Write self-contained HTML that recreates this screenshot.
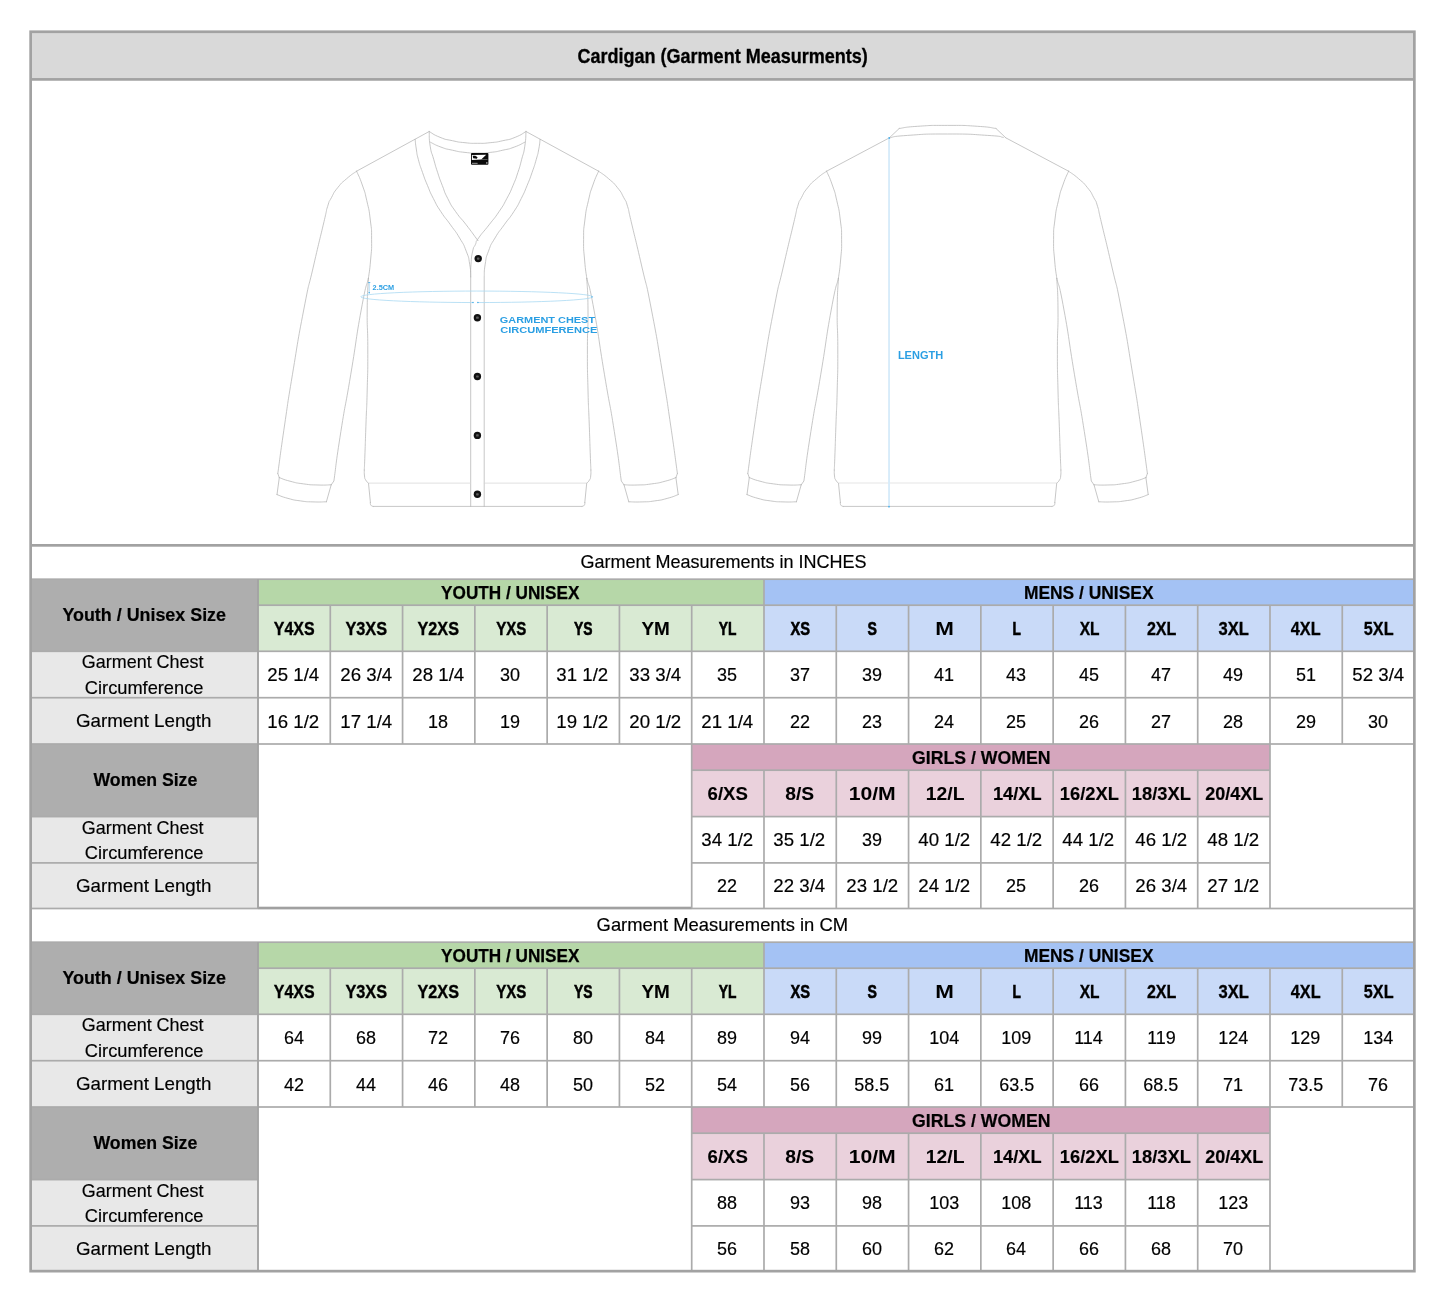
<!DOCTYPE html>
<html lang="en"><head><meta charset="utf-8"><title>Cardigan (Garment Measurments)</title>
<style>
html,body{margin:0;padding:0;background:#fff;}
body{width:1445px;height:1297px;position:relative;overflow:hidden;font-family:"Liberation Sans",sans-serif;color:#000;}
svg.bg{position:absolute;left:0;top:0;width:1445px;height:1297px;will-change:transform;}
#tx{position:absolute;left:0;top:0;width:1445px;height:1297px;will-change:transform;}
.t{position:absolute;width:0;height:0;display:flex;align-items:center;justify-content:center;white-space:nowrap;overflow:visible;}
.t span{display:inline-block;flex:none;transform-origin:50% 50%;}
.ttl{font-weight:bold;font-size:19.7px;}
.bd{font-weight:bold;font-size:18.2px;}
.rg{font-size:18.2px;-webkit-text-stroke:0.18px #000;}
</style></head><body>
<svg class="bg" width="1445" height="1297" viewBox="0 0 1445 1297">
<rect x="30.65" y="31.75" width="1383.70" height="47.65" fill="#d9d9d9"/>
<rect x="30.65" y="579.20" width="227.35" height="72.10" fill="#aeaeae"/>
<rect x="30.65" y="651.30" width="227.35" height="92.70" fill="#e8e8e8"/>
<rect x="30.65" y="744.00" width="227.35" height="72.60" fill="#aeaeae"/>
<rect x="30.65" y="816.60" width="227.35" height="91.90" fill="#e8e8e8"/>
<rect x="258.00" y="579.20" width="506.00" height="26.00" fill="#b6d7a8"/>
<rect x="764.00" y="579.20" width="650.35" height="26.00" fill="#a4c2f4"/>
<rect x="258.00" y="605.20" width="506.00" height="46.10" fill="#d9ead3"/>
<rect x="764.00" y="605.20" width="650.35" height="46.10" fill="#c9daf8"/>
<rect x="691.71" y="744.00" width="578.28" height="26.20" fill="#d5a6bd"/>
<rect x="691.71" y="770.20" width="578.28" height="46.40" fill="#ead1dc"/>
<rect x="30.65" y="578.35" width="1383.70" height="1.70" fill="#ababab"/>
<rect x="258.00" y="604.35" width="1156.35" height="1.70" fill="#ababab"/>
<rect x="30.65" y="650.45" width="1383.70" height="1.70" fill="#ababab"/>
<rect x="30.65" y="696.85" width="1383.70" height="1.70" fill="#ababab"/>
<rect x="30.65" y="743.15" width="1383.70" height="1.70" fill="#ababab"/>
<rect x="691.71" y="769.35" width="578.28" height="1.70" fill="#ababab"/>
<rect x="30.65" y="815.75" width="227.35" height="1.70" fill="#ababab"/>
<rect x="691.71" y="815.75" width="578.28" height="1.70" fill="#ababab"/>
<rect x="30.65" y="862.05" width="227.35" height="1.70" fill="#ababab"/>
<rect x="691.71" y="862.05" width="578.28" height="1.70" fill="#ababab"/>
<rect x="30.65" y="907.65" width="1383.70" height="1.70" fill="#ababab"/>
<rect x="258.00" y="906.70" width="433.71" height="2.40" fill="#a0a0a0"/>
<rect x="257.05" y="579.20" width="1.90" height="329.30" fill="#a4a4a4"/>
<rect x="329.43" y="605.20" width="1.70" height="138.80" fill="#ababab"/>
<rect x="401.72" y="605.20" width="1.70" height="138.80" fill="#ababab"/>
<rect x="474.00" y="605.20" width="1.70" height="138.80" fill="#ababab"/>
<rect x="546.29" y="605.20" width="1.70" height="138.80" fill="#ababab"/>
<rect x="618.57" y="605.20" width="1.70" height="138.80" fill="#ababab"/>
<rect x="690.86" y="605.20" width="1.70" height="138.80" fill="#ababab"/>
<rect x="763.14" y="579.20" width="1.70" height="164.80" fill="#ababab"/>
<rect x="835.43" y="605.20" width="1.70" height="138.80" fill="#ababab"/>
<rect x="907.71" y="605.20" width="1.70" height="138.80" fill="#ababab"/>
<rect x="980.00" y="605.20" width="1.70" height="138.80" fill="#ababab"/>
<rect x="1052.29" y="605.20" width="1.70" height="138.80" fill="#ababab"/>
<rect x="1124.57" y="605.20" width="1.70" height="138.80" fill="#ababab"/>
<rect x="1196.86" y="605.20" width="1.70" height="138.80" fill="#ababab"/>
<rect x="1269.14" y="605.20" width="1.70" height="138.80" fill="#ababab"/>
<rect x="1341.42" y="605.20" width="1.70" height="138.80" fill="#ababab"/>
<rect x="690.86" y="744.00" width="1.70" height="164.50" fill="#ababab"/>
<rect x="763.14" y="770.20" width="1.70" height="138.30" fill="#ababab"/>
<rect x="835.43" y="770.20" width="1.70" height="138.30" fill="#ababab"/>
<rect x="907.71" y="770.20" width="1.70" height="138.30" fill="#ababab"/>
<rect x="980.00" y="770.20" width="1.70" height="138.30" fill="#ababab"/>
<rect x="1052.29" y="770.20" width="1.70" height="138.30" fill="#ababab"/>
<rect x="1124.57" y="770.20" width="1.70" height="138.30" fill="#ababab"/>
<rect x="1196.86" y="770.20" width="1.70" height="138.30" fill="#ababab"/>
<rect x="1269.14" y="744.00" width="1.70" height="164.50" fill="#ababab"/>
<rect x="30.65" y="942.20" width="227.35" height="72.10" fill="#aeaeae"/>
<rect x="30.65" y="1014.30" width="227.35" height="92.70" fill="#e8e8e8"/>
<rect x="30.65" y="1107.00" width="227.35" height="72.60" fill="#aeaeae"/>
<rect x="30.65" y="1179.60" width="227.35" height="91.55" fill="#e8e8e8"/>
<rect x="258.00" y="942.20" width="506.00" height="26.00" fill="#b6d7a8"/>
<rect x="764.00" y="942.20" width="650.35" height="26.00" fill="#a4c2f4"/>
<rect x="258.00" y="968.20" width="506.00" height="46.10" fill="#d9ead3"/>
<rect x="764.00" y="968.20" width="650.35" height="46.10" fill="#c9daf8"/>
<rect x="691.71" y="1107.00" width="578.28" height="26.20" fill="#d5a6bd"/>
<rect x="691.71" y="1133.20" width="578.28" height="46.40" fill="#ead1dc"/>
<rect x="30.65" y="941.35" width="1383.70" height="1.70" fill="#ababab"/>
<rect x="258.00" y="967.35" width="1156.35" height="1.70" fill="#ababab"/>
<rect x="30.65" y="1013.45" width="1383.70" height="1.70" fill="#ababab"/>
<rect x="30.65" y="1059.85" width="1383.70" height="1.70" fill="#ababab"/>
<rect x="30.65" y="1106.15" width="1383.70" height="1.70" fill="#ababab"/>
<rect x="691.71" y="1132.35" width="578.28" height="1.70" fill="#ababab"/>
<rect x="30.65" y="1178.75" width="227.35" height="1.70" fill="#ababab"/>
<rect x="691.71" y="1178.75" width="578.28" height="1.70" fill="#ababab"/>
<rect x="30.65" y="1225.05" width="227.35" height="1.70" fill="#ababab"/>
<rect x="691.71" y="1225.05" width="578.28" height="1.70" fill="#ababab"/>
<rect x="257.05" y="942.20" width="1.90" height="328.95" fill="#a4a4a4"/>
<rect x="329.43" y="968.20" width="1.70" height="138.80" fill="#ababab"/>
<rect x="401.72" y="968.20" width="1.70" height="138.80" fill="#ababab"/>
<rect x="474.00" y="968.20" width="1.70" height="138.80" fill="#ababab"/>
<rect x="546.29" y="968.20" width="1.70" height="138.80" fill="#ababab"/>
<rect x="618.57" y="968.20" width="1.70" height="138.80" fill="#ababab"/>
<rect x="690.86" y="968.20" width="1.70" height="138.80" fill="#ababab"/>
<rect x="763.14" y="942.20" width="1.70" height="164.80" fill="#ababab"/>
<rect x="835.43" y="968.20" width="1.70" height="138.80" fill="#ababab"/>
<rect x="907.71" y="968.20" width="1.70" height="138.80" fill="#ababab"/>
<rect x="980.00" y="968.20" width="1.70" height="138.80" fill="#ababab"/>
<rect x="1052.29" y="968.20" width="1.70" height="138.80" fill="#ababab"/>
<rect x="1124.57" y="968.20" width="1.70" height="138.80" fill="#ababab"/>
<rect x="1196.86" y="968.20" width="1.70" height="138.80" fill="#ababab"/>
<rect x="1269.14" y="968.20" width="1.70" height="138.80" fill="#ababab"/>
<rect x="1341.42" y="968.20" width="1.70" height="138.80" fill="#ababab"/>
<rect x="690.86" y="1107.00" width="1.70" height="164.15" fill="#ababab"/>
<rect x="763.14" y="1133.20" width="1.70" height="137.95" fill="#ababab"/>
<rect x="835.43" y="1133.20" width="1.70" height="137.95" fill="#ababab"/>
<rect x="907.71" y="1133.20" width="1.70" height="137.95" fill="#ababab"/>
<rect x="980.00" y="1133.20" width="1.70" height="137.95" fill="#ababab"/>
<rect x="1052.29" y="1133.20" width="1.70" height="137.95" fill="#ababab"/>
<rect x="1124.57" y="1133.20" width="1.70" height="137.95" fill="#ababab"/>
<rect x="1196.86" y="1133.20" width="1.70" height="137.95" fill="#ababab"/>
<rect x="1269.14" y="1107.00" width="1.70" height="164.15" fill="#ababab"/>
<rect x="30.65" y="78.05" width="1383.70" height="2.70" fill="#a2a2a2"/>
<rect x="30.65" y="544.00" width="1383.70" height="2.70" fill="#a2a2a2"/>
<rect x="30.65" y="31.75" width="1383.70" height="1239.40" fill="none" stroke="#a2a2a2" stroke-width="2.7"/>
<g id="garments" fill="none" stroke="#b4b4b4" stroke-width="0.75" stroke-linecap="round" stroke-linejoin="round">
<g id="front">
<path d="M356.60,171.20 C353.23,173.73 352.80,173.30 346.50,178.80 C340.20,184.30 342.70,181.47 337.70,187.70 C332.70,193.93 334.87,191.23 331.50,197.50 C328.13,203.77 330.10,198.43 327.60,206.50 C325.10,214.57 328.70,201.87 324.00,221.70 C319.30,241.53 320.27,236.57 313.50,266.00 C306.73,295.43 310.73,273.73 303.70,310.00 C296.67,346.27 298.77,336.47 292.40,374.80 C286.03,413.13 289.47,392.10 284.60,425.00 C279.73,457.90 280.07,457.33 277.80,473.50 M277.80,473.50 L279.30,477.60 M279.30,477.60 C282.87,478.80 281.87,479.10 290.00,481.20 C298.13,483.30 294.37,482.63 303.70,483.90 C313.03,485.17 308.83,484.70 318.00,485.00 C327.17,485.30 326.80,484.87 331.20,484.80 M368.40,278.40 C366.00,288.93 367.10,277.87 361.20,310.00 C355.30,342.13 357.47,334.33 350.70,374.80 C343.93,415.27 346.50,396.00 340.90,431.40 C335.30,466.80 336.23,464.47 333.90,481.00 L331.2,484.8 M279.30,477.60 L277.00,494.60 M277.00,494.60 C280.67,495.87 280.17,496.30 288.00,498.40 C295.83,500.50 292.17,499.73 300.50,500.90 C308.83,502.07 304.37,501.60 313.00,501.90 C321.63,502.20 321.93,501.83 326.40,501.80 M326.40,501.80 L331.20,484.80 M356.60,171.20 C358.50,175.80 358.90,175.17 362.30,185.00 C365.70,194.83 364.13,189.03 366.80,200.70 C369.47,212.37 368.70,207.07 370.30,220.00 C371.90,232.93 371.50,226.17 371.60,239.50 C371.70,252.83 371.67,247.03 370.60,260.00 C369.53,272.97 369.13,272.27 368.40,278.40 M368.40,278.40 C368.00,288.93 367.40,286.13 367.20,310.00 C367.00,333.87 367.80,323.33 367.80,350.00 C367.80,376.67 367.80,365.67 367.20,390.00 C366.60,414.33 366.77,401.33 366.00,423.00 C365.23,444.67 365.47,439.33 364.90,455.00 C364.33,470.67 364.50,465.00 364.30,470.00 M364.30,470.00 C364.37,472.00 364.07,472.73 364.50,476.00 C364.93,479.27 364.27,477.37 365.60,479.80 C366.93,482.23 367.53,482.13 368.50,483.30 M368.50,483.30 L370.40,502.40 M370.40,502.40 C370.57,503.33 369.97,503.87 370.90,505.20 C371.83,506.53 372.43,506.00 373.20,506.40"/>
<path transform="translate(955.20,0) scale(-1,1)" d="M356.60,171.20 C353.23,173.73 352.80,173.30 346.50,178.80 C340.20,184.30 342.70,181.47 337.70,187.70 C332.70,193.93 334.87,191.23 331.50,197.50 C328.13,203.77 330.10,198.43 327.60,206.50 C325.10,214.57 328.70,201.87 324.00,221.70 C319.30,241.53 320.27,236.57 313.50,266.00 C306.73,295.43 310.73,273.73 303.70,310.00 C296.67,346.27 298.77,336.47 292.40,374.80 C286.03,413.13 289.47,392.10 284.60,425.00 C279.73,457.90 280.07,457.33 277.80,473.50 M277.80,473.50 L279.30,477.60 M279.30,477.60 C282.87,478.80 281.87,479.10 290.00,481.20 C298.13,483.30 294.37,482.63 303.70,483.90 C313.03,485.17 308.83,484.70 318.00,485.00 C327.17,485.30 326.80,484.87 331.20,484.80 M368.40,278.40 C366.00,288.93 367.10,277.87 361.20,310.00 C355.30,342.13 357.47,334.33 350.70,374.80 C343.93,415.27 346.50,396.00 340.90,431.40 C335.30,466.80 336.23,464.47 333.90,481.00 L331.2,484.8 M279.30,477.60 L277.00,494.60 M277.00,494.60 C280.67,495.87 280.17,496.30 288.00,498.40 C295.83,500.50 292.17,499.73 300.50,500.90 C308.83,502.07 304.37,501.60 313.00,501.90 C321.63,502.20 321.93,501.83 326.40,501.80 M326.40,501.80 L331.20,484.80 M356.60,171.20 C358.50,175.80 358.90,175.17 362.30,185.00 C365.70,194.83 364.13,189.03 366.80,200.70 C369.47,212.37 368.70,207.07 370.30,220.00 C371.90,232.93 371.50,226.17 371.60,239.50 C371.70,252.83 371.67,247.03 370.60,260.00 C369.53,272.97 369.13,272.27 368.40,278.40 M368.40,278.40 C368.00,288.93 367.40,286.13 367.20,310.00 C367.00,333.87 367.80,323.33 367.80,350.00 C367.80,376.67 367.80,365.67 367.20,390.00 C366.60,414.33 366.77,401.33 366.00,423.00 C365.23,444.67 365.47,439.33 364.90,455.00 C364.33,470.67 364.50,465.00 364.30,470.00 M364.30,470.00 C364.37,472.00 364.07,472.73 364.50,476.00 C364.93,479.27 364.27,477.37 365.60,479.80 C366.93,482.23 367.53,482.13 368.50,483.30 M368.50,483.30 L370.40,502.40 M370.40,502.40 C370.57,503.33 369.97,503.87 370.90,505.20 C371.83,506.53 372.43,506.00 373.20,506.40"/>
<path d="M429.20,131.50 L356.60,171.20 M526.00,131.50 L598.60,171.20"/>
<path d="M429.20,131.50 C432.80,133.43 432.27,134.23 440.00,137.30 C447.73,140.37 444.07,138.90 452.40,140.70 C460.73,142.50 456.60,141.83 465.00,142.70 C473.40,143.57 469.20,143.30 477.60,143.30 C486.00,143.30 481.80,143.57 490.20,142.70 C498.60,141.83 494.47,142.50 502.80,140.70 C511.13,138.90 507.47,140.37 515.20,137.30 C522.93,134.23 522.40,133.43 526.00,131.50"/>
<path d="M430.60,142.30 C434.07,143.90 433.73,144.47 441.00,147.10 C448.27,149.73 444.40,148.43 452.40,150.20 C460.40,151.97 456.60,151.47 465.00,152.40 C473.40,153.33 469.20,153.00 477.60,153.00 C486.00,153.00 481.80,153.33 490.20,152.40 C498.60,151.47 494.80,151.97 502.80,150.20 C510.80,148.43 506.93,149.73 514.20,147.10 C521.47,144.47 521.13,143.90 524.60,142.30"/>
<path d="M415.10,139.30 C415.50,142.53 415.23,142.33 416.30,149.00 C417.37,155.67 416.23,151.50 418.30,159.30 C420.37,167.10 419.43,163.67 422.50,172.40 C425.57,181.13 423.87,176.77 427.50,185.50 C431.13,194.23 428.93,189.87 433.40,198.60 C437.87,207.33 435.20,202.97 440.90,211.70 C446.60,220.43 444.27,216.03 450.50,224.80 C456.73,233.57 454.37,229.23 459.60,238.00 C464.83,246.77 462.83,242.37 466.20,251.10 C469.57,259.83 468.20,255.57 469.70,264.20 C471.20,272.83 470.37,272.73 470.70,277.00 L470.7,506.4"/>
<path d="M540.10,139.30 C539.67,142.53 540.07,142.33 538.80,149.00 C537.53,155.67 538.53,151.50 536.30,159.30 C534.07,167.10 535.17,163.67 532.10,172.40 C529.03,181.13 530.73,176.77 527.10,185.50 C523.47,194.23 525.63,189.87 521.20,198.60 C516.77,207.33 519.47,202.97 513.80,211.70 C508.13,220.43 510.47,216.03 504.20,224.80 C497.93,233.57 500.23,229.23 495.00,238.00 C489.77,246.77 491.77,242.37 488.50,251.10 C485.23,259.83 486.63,255.57 485.20,264.20 C483.77,272.83 484.53,272.73 484.20,277.00 L484.2,506.4"/>
<path d="M429.20,131.50 C429.53,136.40 428.70,136.93 430.20,146.20 C431.70,155.47 431.23,150.57 433.70,159.30 C436.17,168.03 434.73,163.67 437.60,172.40 C440.47,181.13 438.90,176.77 442.30,185.50 C445.70,194.23 443.33,189.87 447.80,198.60 C452.27,207.33 449.57,202.97 455.70,211.70 C461.83,220.43 459.43,216.03 466.20,224.80 C472.97,233.57 472.30,232.97 476.00,238.00 C479.70,243.03 476.87,239.27 477.30,239.90"/>
<path d="M526.00,131.50 C525.60,136.40 526.23,136.93 524.80,146.20 C523.37,155.47 524.00,150.57 521.70,159.30 C519.40,168.03 520.80,163.67 517.90,172.40 C515.00,181.13 516.70,176.77 513.00,185.50 C509.30,194.23 511.47,189.87 506.80,198.60 C502.13,207.33 504.90,202.97 499.00,211.70 C493.10,220.43 495.90,216.03 489.10,224.80 C482.30,233.57 483.17,231.43 478.60,238.00 C474.03,244.57 477.37,240.13 475.40,244.50 C473.43,248.87 474.17,244.53 472.70,251.10 C471.23,257.67 471.67,255.57 471.00,264.20 C470.33,272.83 470.80,272.73 470.70,277.00"/>
<path d="M373.2,506.4 L582.00,506.4"/>
<path d="M368.5,483.1 L470.7,483.1 M484.2,483.1 L586.70,483.1" stroke="#d6d6d6"/>
</g>
<circle cx="478.2" cy="258.6" r="3.7" fill="#111" stroke="none"/>
<rect x="476.9" y="257.5" width="2.6" height="2.2" rx="0.6" fill="#5c5c5c" stroke="none"/>
<circle cx="477.4" cy="317.7" r="3.7" fill="#111" stroke="none"/>
<rect x="476.1" y="316.6" width="2.6" height="2.2" rx="0.6" fill="#5c5c5c" stroke="none"/>
<circle cx="477.4" cy="376.5" r="3.7" fill="#111" stroke="none"/>
<rect x="476.1" y="375.4" width="2.6" height="2.2" rx="0.6" fill="#5c5c5c" stroke="none"/>
<circle cx="477.4" cy="435.4" r="3.7" fill="#111" stroke="none"/>
<rect x="476.1" y="434.3" width="2.6" height="2.2" rx="0.6" fill="#5c5c5c" stroke="none"/>
<circle cx="477.4" cy="494.3" r="3.7" fill="#111" stroke="none"/>
<rect x="476.1" y="493.2" width="2.6" height="2.2" rx="0.6" fill="#5c5c5c" stroke="none"/>
<g stroke="none">
<rect x="471.0" y="153.1" width="17.4" height="11.6" rx="0.9" fill="#0a0a0a"/>
<path d="M471.9,155.0 L486.2,154.8 L481.2,159.6 L471.9,159.9 Z" fill="#fff"/>
<path d="M472.7,155.7 L475.2,155.7 L477.6,157.3 L476.8,158.8 L473.2,158.3 Z" fill="#0a0a0a"/>
<rect x="481.2" y="159.5" width="6.3" height="0.5" fill="#9a9a9a"/>
<rect x="472.0" y="162.8" width="5.6" height="1.1" fill="#8c8c8c"/>
<rect x="486.3" y="162.2" width="1.1" height="1.5" fill="#ddd"/>
</g>
<g id="back" transform="translate(470.0,0)">
<path d="M356.60,171.20 C353.23,173.73 352.80,173.30 346.50,178.80 C340.20,184.30 342.70,181.47 337.70,187.70 C332.70,193.93 334.87,191.23 331.50,197.50 C328.13,203.77 330.10,198.43 327.60,206.50 C325.10,214.57 328.70,201.87 324.00,221.70 C319.30,241.53 320.27,236.57 313.50,266.00 C306.73,295.43 310.73,273.73 303.70,310.00 C296.67,346.27 298.77,336.47 292.40,374.80 C286.03,413.13 289.47,392.10 284.60,425.00 C279.73,457.90 280.07,457.33 277.80,473.50 M277.80,473.50 L279.30,477.60 M279.30,477.60 C282.87,478.80 281.87,479.10 290.00,481.20 C298.13,483.30 294.37,482.63 303.70,483.90 C313.03,485.17 308.83,484.70 318.00,485.00 C327.17,485.30 326.80,484.87 331.20,484.80 M368.40,278.40 C366.00,288.93 367.10,277.87 361.20,310.00 C355.30,342.13 357.47,334.33 350.70,374.80 C343.93,415.27 346.50,396.00 340.90,431.40 C335.30,466.80 336.23,464.47 333.90,481.00 L331.2,484.8 M279.30,477.60 L277.00,494.60 M277.00,494.60 C280.67,495.87 280.17,496.30 288.00,498.40 C295.83,500.50 292.17,499.73 300.50,500.90 C308.83,502.07 304.37,501.60 313.00,501.90 C321.63,502.20 321.93,501.83 326.40,501.80 M326.40,501.80 L331.20,484.80 M356.60,171.20 C358.50,175.80 358.90,175.17 362.30,185.00 C365.70,194.83 364.13,189.03 366.80,200.70 C369.47,212.37 368.70,207.07 370.30,220.00 C371.90,232.93 371.50,226.17 371.60,239.50 C371.70,252.83 371.67,247.03 370.60,260.00 C369.53,272.97 369.13,272.27 368.40,278.40 M368.40,278.40 C368.00,288.93 367.40,286.13 367.20,310.00 C367.00,333.87 367.80,323.33 367.80,350.00 C367.80,376.67 367.80,365.67 367.20,390.00 C366.60,414.33 366.77,401.33 366.00,423.00 C365.23,444.67 365.47,439.33 364.90,455.00 C364.33,470.67 364.50,465.00 364.30,470.00 M364.30,470.00 C364.37,472.00 364.07,472.73 364.50,476.00 C364.93,479.27 364.27,477.37 365.60,479.80 C366.93,482.23 367.53,482.13 368.50,483.30 M368.50,483.30 L370.40,502.40 M370.40,502.40 C370.57,503.33 369.97,503.87 370.90,505.20 C371.83,506.53 372.43,506.00 373.20,506.40"/>
<path transform="translate(955.20,0) scale(-1,1)" d="M356.60,171.20 C353.23,173.73 352.80,173.30 346.50,178.80 C340.20,184.30 342.70,181.47 337.70,187.70 C332.70,193.93 334.87,191.23 331.50,197.50 C328.13,203.77 330.10,198.43 327.60,206.50 C325.10,214.57 328.70,201.87 324.00,221.70 C319.30,241.53 320.27,236.57 313.50,266.00 C306.73,295.43 310.73,273.73 303.70,310.00 C296.67,346.27 298.77,336.47 292.40,374.80 C286.03,413.13 289.47,392.10 284.60,425.00 C279.73,457.90 280.07,457.33 277.80,473.50 M277.80,473.50 L279.30,477.60 M279.30,477.60 C282.87,478.80 281.87,479.10 290.00,481.20 C298.13,483.30 294.37,482.63 303.70,483.90 C313.03,485.17 308.83,484.70 318.00,485.00 C327.17,485.30 326.80,484.87 331.20,484.80 M368.40,278.40 C366.00,288.93 367.10,277.87 361.20,310.00 C355.30,342.13 357.47,334.33 350.70,374.80 C343.93,415.27 346.50,396.00 340.90,431.40 C335.30,466.80 336.23,464.47 333.90,481.00 L331.2,484.8 M279.30,477.60 L277.00,494.60 M277.00,494.60 C280.67,495.87 280.17,496.30 288.00,498.40 C295.83,500.50 292.17,499.73 300.50,500.90 C308.83,502.07 304.37,501.60 313.00,501.90 C321.63,502.20 321.93,501.83 326.40,501.80 M326.40,501.80 L331.20,484.80 M356.60,171.20 C358.50,175.80 358.90,175.17 362.30,185.00 C365.70,194.83 364.13,189.03 366.80,200.70 C369.47,212.37 368.70,207.07 370.30,220.00 C371.90,232.93 371.50,226.17 371.60,239.50 C371.70,252.83 371.67,247.03 370.60,260.00 C369.53,272.97 369.13,272.27 368.40,278.40 M368.40,278.40 C368.00,288.93 367.40,286.13 367.20,310.00 C367.00,333.87 367.80,323.33 367.80,350.00 C367.80,376.67 367.80,365.67 367.20,390.00 C366.60,414.33 366.77,401.33 366.00,423.00 C365.23,444.67 365.47,439.33 364.90,455.00 C364.33,470.67 364.50,465.00 364.30,470.00 M364.30,470.00 C364.37,472.00 364.07,472.73 364.50,476.00 C364.93,479.27 364.27,477.37 365.60,479.80 C366.93,482.23 367.53,482.13 368.50,483.30 M368.50,483.30 L370.40,502.40 M370.40,502.40 C370.57,503.33 369.97,503.87 370.90,505.20 C371.83,506.53 372.43,506.00 373.20,506.40"/>
<path d="M419.30,137.90 L356.60,171.20 M535.90,137.90 L598.60,171.20"/>
<path d="M419.30,137.90 L429.20,128.50 M535.90,137.90 L526.00,128.50"/>
<path d="M429.20,128.50 C435.33,127.77 431.47,127.33 447.60,126.30 C463.73,125.27 457.60,125.40 477.60,125.40 C497.60,125.40 491.47,125.27 507.60,126.30 C523.73,127.33 519.87,127.77 526.00,128.50"/>
<path d="M419.30,137.90 C425.40,137.07 418.17,136.70 437.60,135.40 C457.03,134.10 450.93,134.00 477.60,134.00 C504.27,134.00 499.03,134.27 517.60,135.40 C536.17,136.53 528.07,136.73 533.30,137.40"/>
<path d="M373.2,506.4 L582.00,506.4"/>
<path d="M368.5,483.0 L586.70,483.0" stroke="#dcdcdc"/>
</g>
</g>
<g id="anno" fill="none">
<path d="M477.900,302.550 A115.9,5.75 0 0 0 592.600,296.800 A115.9,5.75 0 0 0 360.800,296.800 A115.9,5.75 0 0 0 473.000,302.547" stroke="#a9d9f3" stroke-width="0.8"/>
<circle cx="477.90" cy="302.55" r="0.7" fill="#2b9fe3"/><circle cx="473.00" cy="302.55" r="0.7" fill="#2b9fe3"/>
<circle cx="592.00" cy="296.80" r="0.9" fill="#7cc3ec"/>
<path d="M369.2,282.5 L369.2,292.9" stroke="#8fcdf0" stroke-width="0.7"/>
<path d="M368.2,282.5 L370.3,282.5" stroke="#2b9fe3" stroke-width="0.7"/><circle cx="369.2" cy="292.8" r="0.8" fill="#4aaee6"/>
<rect x="888.1" y="138.0" width="1.9" height="369.0" fill="#d7ecfa"/>
<rect x="888.0" y="505.9" width="2.0" height="1.5" fill="#62b6e8"/><circle cx="889.2" cy="138.0" r="0.9" fill="#4aaee6"/>
</g>
<g id="annotext" fill="#2b9fe3" font-family="Liberation Sans, sans-serif" font-weight="bold">
<text x="372.6" y="289.85" font-size="7.2" textLength="21.6" lengthAdjust="spacingAndGlyphs">2.5CM</text>
<text x="499.8" y="323.2" font-size="9.4" textLength="95.3" lengthAdjust="spacingAndGlyphs">GARMENT CHEST</text>
<text x="500.2" y="333.0" font-size="9.4" textLength="97.2" lengthAdjust="spacingAndGlyphs">CIRCUMFERENCE</text>
<text x="897.9" y="359.1" font-size="10.4" textLength="45.3" lengthAdjust="spacingAndGlyphs">LENGTH</text>
</g>
</svg>
<div id="tx">
<div class="t ttl" style="left:722.50px;top:56.10px"><span style="transform:scaleX(0.9149);-webkit-text-stroke:0.32px #000">Cardigan (Garment Measurments)</span></div>
<div class="t rg" style="left:723.60px;top:562.98px"><span style="transform:scaleX(0.9899)">Garment Measurements in INCHES</span></div>
<div class="t bd" style="left:144.60px;top:615.25px"><span style="transform:scaleX(0.9830);-webkit-text-stroke:0.19px #000">Youth / Unisex Size</span></div>
<div class="t bd" style="left:145.00px;top:780.10px"><span style="transform:scaleX(0.9720);-webkit-text-stroke:0.20px #000">Women Size</span></div>
<div class="t rg" style="left:142.90px;top:662.70px"><span style="transform:scaleX(0.9861)">Garment Chest</span></div>
<div class="t rg" style="left:144.00px;top:688.35px"><span style="transform:scaleX(1.0026)">Circumference</span></div>
<div class="t rg" style="left:142.90px;top:828.00px"><span style="transform:scaleX(0.9861)">Garment Chest</span></div>
<div class="t rg" style="left:144.00px;top:853.65px"><span style="transform:scaleX(1.0026)">Circumference</span></div>
<div class="t rg" style="left:143.70px;top:721.95px"><span style="transform:scaleX(1.0302)">Garment Length</span></div>
<div class="t rg" style="left:143.70px;top:886.80px"><span style="transform:scaleX(1.0302)">Garment Length</span></div>
<div class="t bd" style="left:510.60px;top:593.35px"><span style="transform:scaleX(0.9445);-webkit-text-stroke:0.25px #000">YOUTH / UNISEX</span></div>
<div class="t bd" style="left:1089.17px;top:593.35px"><span style="transform:scaleX(0.9570);-webkit-text-stroke:0.21px #000">MENS / UNISEX</span></div>
<div class="t bd" style="left:981.65px;top:758.25px"><span style="transform:scaleX(0.9716);-webkit-text-stroke:0.21px #000">GIRLS / WOMEN</span></div>
<div class="t bd" style="left:294.14px;top:629.30px"><span style="transform:scaleX(0.8783);-webkit-text-stroke:0.35px #000">Y4XS</span></div>
<div class="t rg" style="left:293.64px;top:675.65px"><span style="transform:scaleX(1.0250)">25 1/4</span></div>
<div class="t rg" style="left:293.64px;top:722.05px"><span style="transform:scaleX(1.0250)">16 1/2</span></div>
<div class="t bd" style="left:366.43px;top:629.30px"><span style="transform:scaleX(0.8933);-webkit-text-stroke:0.36px #000">Y3XS</span></div>
<div class="t rg" style="left:365.93px;top:675.65px"><span style="transform:scaleX(1.0250)">26 3/4</span></div>
<div class="t rg" style="left:365.93px;top:722.05px"><span style="transform:scaleX(1.0250)">17 1/4</span></div>
<div class="t bd" style="left:438.71px;top:629.30px"><span style="transform:scaleX(0.8889);-webkit-text-stroke:0.37px #000">Y2XS</span></div>
<div class="t rg" style="left:438.21px;top:675.65px"><span style="transform:scaleX(1.0250)">28 1/4</span></div>
<div class="t rg" style="left:438.21px;top:722.05px"><span style="transform:scaleX(0.9880)">18</span></div>
<div class="t bd" style="left:511.00px;top:629.30px"><span style="transform:scaleX(0.8250);-webkit-text-stroke:0.46px #000">YXS</span></div>
<div class="t rg" style="left:510.50px;top:675.65px"><span style="transform:scaleX(0.9880)">30</span></div>
<div class="t rg" style="left:510.50px;top:722.05px"><span style="transform:scaleX(0.9880)">19</span></div>
<div class="t bd" style="left:583.28px;top:629.30px"><span style="transform:scaleX(0.7625);-webkit-text-stroke:0.59px #000">YS</span></div>
<div class="t rg" style="left:582.78px;top:675.65px"><span style="transform:scaleX(1.0250)">31 1/2</span></div>
<div class="t rg" style="left:582.78px;top:722.05px"><span style="transform:scaleX(1.0250)">19 1/2</span></div>
<div class="t bd" style="left:655.57px;top:629.30px"><span style="transform:scaleX(1.0400);-webkit-text-stroke:0.10px #000">YM</span></div>
<div class="t rg" style="left:655.07px;top:675.65px"><span style="transform:scaleX(1.0250)">33 3/4</span></div>
<div class="t rg" style="left:655.07px;top:722.05px"><span style="transform:scaleX(1.0250)">20 1/2</span></div>
<div class="t bd" style="left:727.85px;top:629.30px"><span style="transform:scaleX(0.7609);-webkit-text-stroke:0.59px #000">YL</span></div>
<div class="t rg" style="left:727.35px;top:675.65px"><span style="transform:scaleX(0.9880)">35</span></div>
<div class="t rg" style="left:727.35px;top:722.05px"><span style="transform:scaleX(1.0250)">21 1/4</span></div>
<div class="t bd" style="left:800.14px;top:629.30px"><span style="transform:scaleX(0.8042);-webkit-text-stroke:0.57px #000">XS</span></div>
<div class="t rg" style="left:799.64px;top:675.65px"><span style="transform:scaleX(0.9880)">37</span></div>
<div class="t rg" style="left:799.64px;top:722.05px"><span style="transform:scaleX(0.9880)">22</span></div>
<div class="t bd" style="left:872.42px;top:629.30px"><span style="transform:scaleX(0.7727);-webkit-text-stroke:0.65px #000">S</span></div>
<div class="t rg" style="left:871.92px;top:675.65px"><span style="transform:scaleX(0.9880)">39</span></div>
<div class="t rg" style="left:871.92px;top:722.05px"><span style="transform:scaleX(0.9880)">23</span></div>
<div class="t bd" style="left:944.71px;top:629.30px"><span style="transform:scaleX(1.2308)">M</span></div>
<div class="t rg" style="left:944.21px;top:675.65px"><span style="transform:scaleX(0.9880)">41</span></div>
<div class="t rg" style="left:944.21px;top:722.05px"><span style="transform:scaleX(0.9880)">24</span></div>
<div class="t bd" style="left:1016.99px;top:629.30px"><span style="transform:scaleX(0.7500);-webkit-text-stroke:0.70px #000">L</span></div>
<div class="t rg" style="left:1016.49px;top:675.65px"><span style="transform:scaleX(0.9880)">43</span></div>
<div class="t rg" style="left:1016.49px;top:722.05px"><span style="transform:scaleX(0.9880)">25</span></div>
<div class="t bd" style="left:1089.28px;top:629.30px"><span style="transform:scaleX(0.8522);-webkit-text-stroke:0.37px #000">XL</span></div>
<div class="t rg" style="left:1088.78px;top:675.65px"><span style="transform:scaleX(0.9880)">45</span></div>
<div class="t rg" style="left:1088.78px;top:722.05px"><span style="transform:scaleX(0.9880)">26</span></div>
<div class="t bd" style="left:1161.56px;top:629.30px"><span style="transform:scaleX(0.8848);-webkit-text-stroke:0.32px #000">2XL</span></div>
<div class="t rg" style="left:1161.06px;top:675.65px"><span style="transform:scaleX(0.9880)">47</span></div>
<div class="t rg" style="left:1161.06px;top:722.05px"><span style="transform:scaleX(0.9880)">27</span></div>
<div class="t bd" style="left:1233.85px;top:629.30px"><span style="transform:scaleX(0.9094);-webkit-text-stroke:0.33px #000">3XL</span></div>
<div class="t rg" style="left:1233.35px;top:675.65px"><span style="transform:scaleX(0.9880)">49</span></div>
<div class="t rg" style="left:1233.35px;top:722.05px"><span style="transform:scaleX(0.9880)">28</span></div>
<div class="t bd" style="left:1306.13px;top:629.30px"><span style="transform:scaleX(0.8939);-webkit-text-stroke:0.30px #000">4XL</span></div>
<div class="t rg" style="left:1305.63px;top:675.65px"><span style="transform:scaleX(0.9880)">51</span></div>
<div class="t rg" style="left:1305.63px;top:722.05px"><span style="transform:scaleX(0.9880)">29</span></div>
<div class="t bd" style="left:1378.42px;top:629.30px"><span style="transform:scaleX(0.8909);-webkit-text-stroke:0.31px #000">5XL</span></div>
<div class="t rg" style="left:1377.92px;top:675.65px"><span style="transform:scaleX(1.0250)">52 3/4</span></div>
<div class="t rg" style="left:1377.92px;top:722.05px"><span style="transform:scaleX(0.9880)">30</span></div>
<div class="t bd" style="left:727.85px;top:794.45px"><span style="transform:scaleX(1.0211);-webkit-text-stroke:0.13px #000">6/XS</span></div>
<div class="t rg" style="left:727.35px;top:840.90px"><span style="transform:scaleX(1.0250)">34 1/2</span></div>
<div class="t rg" style="left:727.35px;top:886.90px"><span style="transform:scaleX(0.9880)">22</span></div>
<div class="t bd" style="left:800.14px;top:794.45px"><span style="transform:scaleX(1.0577);-webkit-text-stroke:0.07px #000">8/S</span></div>
<div class="t rg" style="left:799.64px;top:840.90px"><span style="transform:scaleX(1.0250)">35 1/2</span></div>
<div class="t rg" style="left:799.64px;top:886.90px"><span style="transform:scaleX(1.0250)">22 3/4</span></div>
<div class="t bd" style="left:872.42px;top:794.45px"><span style="transform:scaleX(1.1658)">10/M</span></div>
<div class="t rg" style="left:871.92px;top:840.90px"><span style="transform:scaleX(0.9880)">39</span></div>
<div class="t rg" style="left:871.92px;top:886.90px"><span style="transform:scaleX(1.0250)">23 1/2</span></div>
<div class="t bd" style="left:944.71px;top:794.45px"><span style="transform:scaleX(1.0647);-webkit-text-stroke:0.06px #000">12/L</span></div>
<div class="t rg" style="left:944.21px;top:840.90px"><span style="transform:scaleX(1.0250)">40 1/2</span></div>
<div class="t rg" style="left:944.21px;top:886.90px"><span style="transform:scaleX(1.0250)">24 1/2</span></div>
<div class="t bd" style="left:1016.99px;top:794.45px"><span style="transform:scaleX(1.0021);-webkit-text-stroke:0.16px #000">14/XL</span></div>
<div class="t rg" style="left:1016.49px;top:840.90px"><span style="transform:scaleX(1.0250)">42 1/2</span></div>
<div class="t rg" style="left:1016.49px;top:886.90px"><span style="transform:scaleX(0.9880)">25</span></div>
<div class="t bd" style="left:1089.28px;top:794.45px"><span style="transform:scaleX(1.0070);-webkit-text-stroke:0.15px #000">16/2XL</span></div>
<div class="t rg" style="left:1088.78px;top:840.90px"><span style="transform:scaleX(1.0250)">44 1/2</span></div>
<div class="t rg" style="left:1088.78px;top:886.90px"><span style="transform:scaleX(0.9880)">26</span></div>
<div class="t bd" style="left:1161.56px;top:794.45px"><span style="transform:scaleX(1.0070);-webkit-text-stroke:0.15px #000">18/3XL</span></div>
<div class="t rg" style="left:1161.06px;top:840.90px"><span style="transform:scaleX(1.0250)">46 1/2</span></div>
<div class="t rg" style="left:1161.06px;top:886.90px"><span style="transform:scaleX(1.0250)">26 3/4</span></div>
<div class="t bd" style="left:1233.85px;top:794.45px"><span style="transform:scaleX(0.9897);-webkit-text-stroke:0.18px #000">20/4XL</span></div>
<div class="t rg" style="left:1233.35px;top:840.90px"><span style="transform:scaleX(1.0250)">48 1/2</span></div>
<div class="t rg" style="left:1233.35px;top:886.90px"><span style="transform:scaleX(1.0250)">27 1/2</span></div>
<div class="t rg" style="left:722.50px;top:925.55px"><span style="transform:scaleX(1.0114)">Garment Measurements in CM</span></div>
<div class="t bd" style="left:144.60px;top:978.25px"><span style="transform:scaleX(0.9830);-webkit-text-stroke:0.19px #000">Youth / Unisex Size</span></div>
<div class="t bd" style="left:145.00px;top:1143.10px"><span style="transform:scaleX(0.9720);-webkit-text-stroke:0.20px #000">Women Size</span></div>
<div class="t rg" style="left:142.90px;top:1025.70px"><span style="transform:scaleX(0.9861)">Garment Chest</span></div>
<div class="t rg" style="left:144.00px;top:1051.35px"><span style="transform:scaleX(1.0026)">Circumference</span></div>
<div class="t rg" style="left:142.90px;top:1191.00px"><span style="transform:scaleX(0.9861)">Garment Chest</span></div>
<div class="t rg" style="left:144.00px;top:1216.65px"><span style="transform:scaleX(1.0026)">Circumference</span></div>
<div class="t rg" style="left:143.70px;top:1084.95px"><span style="transform:scaleX(1.0302)">Garment Length</span></div>
<div class="t rg" style="left:143.70px;top:1249.63px"><span style="transform:scaleX(1.0302)">Garment Length</span></div>
<div class="t bd" style="left:510.60px;top:956.35px"><span style="transform:scaleX(0.9445);-webkit-text-stroke:0.25px #000">YOUTH / UNISEX</span></div>
<div class="t bd" style="left:1089.17px;top:956.35px"><span style="transform:scaleX(0.9570);-webkit-text-stroke:0.21px #000">MENS / UNISEX</span></div>
<div class="t bd" style="left:981.65px;top:1121.25px"><span style="transform:scaleX(0.9716);-webkit-text-stroke:0.21px #000">GIRLS / WOMEN</span></div>
<div class="t bd" style="left:294.14px;top:992.30px"><span style="transform:scaleX(0.8783);-webkit-text-stroke:0.35px #000">Y4XS</span></div>
<div class="t rg" style="left:293.64px;top:1038.65px"><span style="transform:scaleX(0.9880)">64</span></div>
<div class="t rg" style="left:293.64px;top:1085.05px"><span style="transform:scaleX(0.9880)">42</span></div>
<div class="t bd" style="left:366.43px;top:992.30px"><span style="transform:scaleX(0.8933);-webkit-text-stroke:0.36px #000">Y3XS</span></div>
<div class="t rg" style="left:365.93px;top:1038.65px"><span style="transform:scaleX(0.9880)">68</span></div>
<div class="t rg" style="left:365.93px;top:1085.05px"><span style="transform:scaleX(0.9880)">44</span></div>
<div class="t bd" style="left:438.71px;top:992.30px"><span style="transform:scaleX(0.8889);-webkit-text-stroke:0.37px #000">Y2XS</span></div>
<div class="t rg" style="left:438.21px;top:1038.65px"><span style="transform:scaleX(0.9880)">72</span></div>
<div class="t rg" style="left:438.21px;top:1085.05px"><span style="transform:scaleX(0.9880)">46</span></div>
<div class="t bd" style="left:511.00px;top:992.30px"><span style="transform:scaleX(0.8250);-webkit-text-stroke:0.46px #000">YXS</span></div>
<div class="t rg" style="left:510.50px;top:1038.65px"><span style="transform:scaleX(0.9880)">76</span></div>
<div class="t rg" style="left:510.50px;top:1085.05px"><span style="transform:scaleX(0.9880)">48</span></div>
<div class="t bd" style="left:583.28px;top:992.30px"><span style="transform:scaleX(0.7625);-webkit-text-stroke:0.59px #000">YS</span></div>
<div class="t rg" style="left:582.78px;top:1038.65px"><span style="transform:scaleX(0.9880)">80</span></div>
<div class="t rg" style="left:582.78px;top:1085.05px"><span style="transform:scaleX(0.9880)">50</span></div>
<div class="t bd" style="left:655.57px;top:992.30px"><span style="transform:scaleX(1.0400);-webkit-text-stroke:0.10px #000">YM</span></div>
<div class="t rg" style="left:655.07px;top:1038.65px"><span style="transform:scaleX(0.9880)">84</span></div>
<div class="t rg" style="left:655.07px;top:1085.05px"><span style="transform:scaleX(0.9880)">52</span></div>
<div class="t bd" style="left:727.85px;top:992.30px"><span style="transform:scaleX(0.7609);-webkit-text-stroke:0.59px #000">YL</span></div>
<div class="t rg" style="left:727.35px;top:1038.65px"><span style="transform:scaleX(0.9880)">89</span></div>
<div class="t rg" style="left:727.35px;top:1085.05px"><span style="transform:scaleX(0.9880)">54</span></div>
<div class="t bd" style="left:800.14px;top:992.30px"><span style="transform:scaleX(0.8042);-webkit-text-stroke:0.57px #000">XS</span></div>
<div class="t rg" style="left:799.64px;top:1038.65px"><span style="transform:scaleX(0.9880)">94</span></div>
<div class="t rg" style="left:799.64px;top:1085.05px"><span style="transform:scaleX(0.9880)">56</span></div>
<div class="t bd" style="left:872.42px;top:992.30px"><span style="transform:scaleX(0.7727);-webkit-text-stroke:0.65px #000">S</span></div>
<div class="t rg" style="left:871.92px;top:1038.65px"><span style="transform:scaleX(0.9880)">99</span></div>
<div class="t rg" style="left:871.92px;top:1085.05px"><span style="transform:scaleX(0.9880)">58.5</span></div>
<div class="t bd" style="left:944.71px;top:992.30px"><span style="transform:scaleX(1.2308)">M</span></div>
<div class="t rg" style="left:944.21px;top:1038.65px"><span style="transform:scaleX(0.9880)">104</span></div>
<div class="t rg" style="left:944.21px;top:1085.05px"><span style="transform:scaleX(0.9880)">61</span></div>
<div class="t bd" style="left:1016.99px;top:992.30px"><span style="transform:scaleX(0.7500);-webkit-text-stroke:0.70px #000">L</span></div>
<div class="t rg" style="left:1016.49px;top:1038.65px"><span style="transform:scaleX(0.9880)">109</span></div>
<div class="t rg" style="left:1016.49px;top:1085.05px"><span style="transform:scaleX(0.9880)">63.5</span></div>
<div class="t bd" style="left:1089.28px;top:992.30px"><span style="transform:scaleX(0.8522);-webkit-text-stroke:0.37px #000">XL</span></div>
<div class="t rg" style="left:1088.78px;top:1038.65px"><span style="transform:scaleX(0.9880)">114</span></div>
<div class="t rg" style="left:1088.78px;top:1085.05px"><span style="transform:scaleX(0.9880)">66</span></div>
<div class="t bd" style="left:1161.56px;top:992.30px"><span style="transform:scaleX(0.8848);-webkit-text-stroke:0.32px #000">2XL</span></div>
<div class="t rg" style="left:1161.06px;top:1038.65px"><span style="transform:scaleX(0.9880)">119</span></div>
<div class="t rg" style="left:1161.06px;top:1085.05px"><span style="transform:scaleX(0.9880)">68.5</span></div>
<div class="t bd" style="left:1233.85px;top:992.30px"><span style="transform:scaleX(0.9094);-webkit-text-stroke:0.33px #000">3XL</span></div>
<div class="t rg" style="left:1233.35px;top:1038.65px"><span style="transform:scaleX(0.9880)">124</span></div>
<div class="t rg" style="left:1233.35px;top:1085.05px"><span style="transform:scaleX(0.9880)">71</span></div>
<div class="t bd" style="left:1306.13px;top:992.30px"><span style="transform:scaleX(0.8939);-webkit-text-stroke:0.30px #000">4XL</span></div>
<div class="t rg" style="left:1305.63px;top:1038.65px"><span style="transform:scaleX(0.9880)">129</span></div>
<div class="t rg" style="left:1305.63px;top:1085.05px"><span style="transform:scaleX(0.9880)">73.5</span></div>
<div class="t bd" style="left:1378.42px;top:992.30px"><span style="transform:scaleX(0.8909);-webkit-text-stroke:0.31px #000">5XL</span></div>
<div class="t rg" style="left:1377.92px;top:1038.65px"><span style="transform:scaleX(0.9880)">134</span></div>
<div class="t rg" style="left:1377.92px;top:1085.05px"><span style="transform:scaleX(0.9880)">76</span></div>
<div class="t bd" style="left:727.85px;top:1157.45px"><span style="transform:scaleX(1.0211);-webkit-text-stroke:0.13px #000">6/XS</span></div>
<div class="t rg" style="left:727.35px;top:1203.90px"><span style="transform:scaleX(0.9880)">88</span></div>
<div class="t rg" style="left:727.35px;top:1249.73px"><span style="transform:scaleX(0.9880)">56</span></div>
<div class="t bd" style="left:800.14px;top:1157.45px"><span style="transform:scaleX(1.0577);-webkit-text-stroke:0.07px #000">8/S</span></div>
<div class="t rg" style="left:799.64px;top:1203.90px"><span style="transform:scaleX(0.9880)">93</span></div>
<div class="t rg" style="left:799.64px;top:1249.73px"><span style="transform:scaleX(0.9880)">58</span></div>
<div class="t bd" style="left:872.42px;top:1157.45px"><span style="transform:scaleX(1.1658)">10/M</span></div>
<div class="t rg" style="left:871.92px;top:1203.90px"><span style="transform:scaleX(0.9880)">98</span></div>
<div class="t rg" style="left:871.92px;top:1249.73px"><span style="transform:scaleX(0.9880)">60</span></div>
<div class="t bd" style="left:944.71px;top:1157.45px"><span style="transform:scaleX(1.0647);-webkit-text-stroke:0.06px #000">12/L</span></div>
<div class="t rg" style="left:944.21px;top:1203.90px"><span style="transform:scaleX(0.9880)">103</span></div>
<div class="t rg" style="left:944.21px;top:1249.73px"><span style="transform:scaleX(0.9880)">62</span></div>
<div class="t bd" style="left:1016.99px;top:1157.45px"><span style="transform:scaleX(1.0021);-webkit-text-stroke:0.16px #000">14/XL</span></div>
<div class="t rg" style="left:1016.49px;top:1203.90px"><span style="transform:scaleX(0.9880)">108</span></div>
<div class="t rg" style="left:1016.49px;top:1249.73px"><span style="transform:scaleX(0.9880)">64</span></div>
<div class="t bd" style="left:1089.28px;top:1157.45px"><span style="transform:scaleX(1.0070);-webkit-text-stroke:0.15px #000">16/2XL</span></div>
<div class="t rg" style="left:1088.78px;top:1203.90px"><span style="transform:scaleX(0.9880)">113</span></div>
<div class="t rg" style="left:1088.78px;top:1249.73px"><span style="transform:scaleX(0.9880)">66</span></div>
<div class="t bd" style="left:1161.56px;top:1157.45px"><span style="transform:scaleX(1.0070);-webkit-text-stroke:0.15px #000">18/3XL</span></div>
<div class="t rg" style="left:1161.06px;top:1203.90px"><span style="transform:scaleX(0.9880)">118</span></div>
<div class="t rg" style="left:1161.06px;top:1249.73px"><span style="transform:scaleX(0.9880)">68</span></div>
<div class="t bd" style="left:1233.85px;top:1157.45px"><span style="transform:scaleX(0.9897);-webkit-text-stroke:0.18px #000">20/4XL</span></div>
<div class="t rg" style="left:1233.35px;top:1203.90px"><span style="transform:scaleX(0.9880)">123</span></div>
<div class="t rg" style="left:1233.35px;top:1249.73px"><span style="transform:scaleX(0.9880)">70</span></div>
</div>
</body></html>
